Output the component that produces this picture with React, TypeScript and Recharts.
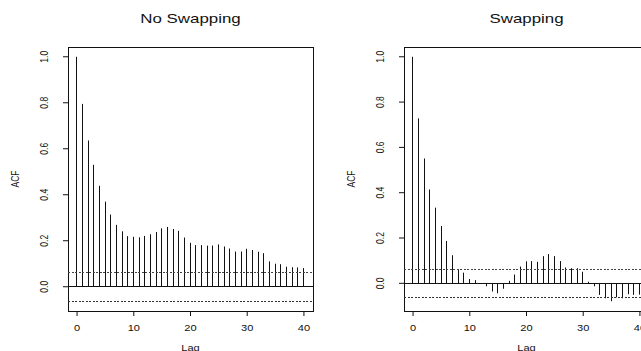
import {
  Bar,
  ComposedChart,
  Customized,
  ReferenceArea,
  ReferenceLine,
  XAxis,
  YAxis,
} from "recharts";

// Lags shown on both panels.
const lags = [
  0, 1, 2, 3, 4, 5, 6, 7, 8, 9, 10, 11, 12, 13, 14, 15, 16, 17, 18, 19, 20,
  21, 22, 23, 24, 25, 26, 27, 28, 29, 30, 31, 32, 33, 34, 35, 36, 37, 38, 39,
  40,
];

// ACF read off the "No Swapping" panel.
const acfNoSwapping = [
  1.0, 0.795, 0.636, 0.53, 0.439, 0.37, 0.314, 0.269, 0.241, 0.22, 0.217,
  0.215, 0.221, 0.228, 0.238, 0.254, 0.26, 0.251, 0.243, 0.214, 0.191, 0.181,
  0.181, 0.179, 0.179, 0.184, 0.175, 0.166, 0.153, 0.153, 0.165, 0.16, 0.152,
  0.146, 0.11, 0.1, 0.098, 0.087, 0.085, 0.084, 0.081,
];

const acfSwapping = [
  1.0, 0.728, 0.551, 0.414, 0.334, 0.253, 0.187, 0.124, 0.06, 0.047, 0.019,
  0.014, 0.001, -0.013, -0.036, -0.044, -0.024, 0.011, 0.039, 0.074, 0.097,
  0.098, 0.095, 0.12, 0.129, 0.12, 0.098, 0.07, 0.067, 0.067, 0.051, 0.007,
  -0.013, -0.051, -0.066, -0.079, -0.062, -0.066, -0.048, -0.051, -0.05,
];

// Confidence bound drawn as dotted lines.
const confLimit = 0.063;

const xTicks = [0, 10, 20, 30, 40];
const yTicks = [0, 0.2, 0.4, 0.6, 0.8, 1.0];

// Layout of one panel (pixels inside its own svg).
const CHART_W = 320;
const CHART_H = 351;
const PLOT_LEFT = 68;
const PLOT_TOP = 47;
const PLOT_RIGHT = 313;
const PLOT_BOTTOM = 311;

const FONT = '"Liberation Sans", Arial, Helvetica, sans-serif';
const STRETCH = 1.3; // the reference glyphs are wider than normal

/** R-style ylim: range of data and bounds, padded 4% each side. */
function yDomain(values: number[]): [number, number] {
  const lo = Math.min(Math.min(...values), -confLimit);
  const hi = Math.max(Math.max(...values), confLimit);
  const pad = (hi - lo) * 0.04;
  return [lo - pad, hi + pad];
}

const xDomain: [number, number] = [
  lags[0] - (lags[lags.length - 1] - lags[0]) * 0.04,
  lags[lags.length - 1] + (lags[lags.length - 1] - lags[0]) * 0.04,
];

function Stem(props: any) {
  const { x, y, width, height } = props;
  if (x == null || y == null) return null;
  const cx = Math.round(x + width / 2 - 0.5) + 0.5;
  return (
    <line
      x1={cx}
      x2={cx}
      y1={y}
      y2={y + height}
      stroke="#111"
      strokeWidth={1}
    />
  );
}

function XTick(props: any) {
  const { x, payload } = props;
  return (
    <text
      transform={`translate(${x},331) scale(${STRETCH},1)`}
      textAnchor="middle"
      fontFamily={FONT}
      fontSize={8.5}
      fill="#111"
    >
      {String(payload.value)}
    </text>
  );
}

function YTick(props: any) {
  const { y, payload } = props;
  return (
    <text
      transform={`translate(48,${y}) scale(${STRETCH},1) rotate(-90)`}
      textAnchor="middle"
      fontFamily={FONT}
      fontSize={8.5}
      fill="#111"
    >
      {Number(payload.value).toFixed(1)}
    </text>
  );
}

function PanelText({ title }: { title: string }) {
  const cx = (PLOT_LEFT + PLOT_RIGHT) / 2;
  const cy = (PLOT_TOP + PLOT_BOTTOM) / 2;
  return (
    <g fontFamily={FONT} fill="#111">
      <text
        transform={`translate(${cx},23) scale(${STRETCH},1)`}
        textAnchor="middle"
        fontSize={13}
      >
        {title}
      </text>
      <text
        transform={`translate(${cx},351) scale(${STRETCH},1)`}
        textAnchor="middle"
        fontSize={8.5}
      >
        Lag
      </text>
      <text
        transform={`translate(18.5,${cy}) scale(${STRETCH},1) rotate(-90)`}
        textAnchor="middle"
        fontSize={8.5}
      >
        ACF
      </text>
    </g>
  );
}

function AcfPanel({ title, values }: { title: string; values: number[] }) {
  const data = lags.map((lag, i) => ({ lag, acf: values[i] }));
  const [yLo, yHi] = yDomain(values);

  return (
    <ComposedChart
      width={CHART_W}
      height={CHART_H}
      data={data}
      margin={{
        top: PLOT_TOP,
        right: CHART_W - PLOT_RIGHT,
        left: 0,
        bottom: 0,
      }}
    >
      <XAxis
        dataKey="lag"
        type="number"
        domain={xDomain}
        ticks={xTicks}
        allowDataOverflow
        axisLine={false}
        tickSize={5}
        tickLine={{ stroke: "#111" }}
        tick={<XTick />}
        height={CHART_H - PLOT_BOTTOM}
        interval={0}
      />
      <YAxis
        type="number"
        domain={[yLo, yHi]}
        ticks={yTicks}
        allowDataOverflow
        axisLine={false}
        tickSize={5}
        tickLine={{ stroke: "#111" }}
        tick={<YTick />}
        width={PLOT_LEFT}
        interval={0}
      />
      <ReferenceArea
        x1={xDomain[0]}
        x2={xDomain[1]}
        y1={yLo}
        y2={yHi}
        fill="none"
        stroke="#111"
        strokeWidth={1}
        shapeRendering="crispEdges"
        ifOverflow="extendDomain"
      />
      <ReferenceLine
        y={confLimit}
        stroke="#444"
        strokeDasharray="2 1.5"
        shapeRendering="crispEdges"
      />
      <ReferenceLine
        y={-confLimit}
        stroke="#333"
        strokeDasharray="2 1.5"
        shapeRendering="crispEdges"
      />
      <ReferenceLine y={0} stroke="#111" shapeRendering="crispEdges" />
      <Bar
        dataKey="acf"
        barSize={1}
        shape={<Stem />}
        isAnimationActive={false}
      />
      <Customized component={<PanelText title={title} />} />
    </ComposedChart>
  );
}

export default function App() {
  return (
    <div
      style={{
        position: "absolute",
        left: 0,
        top: 0,
        width: 641,
        height: 351,
        overflow: "hidden",
        background: "#fff",
      }}
    >
      <div style={{ position: "absolute", left: 0, top: 0 }}>
        <AcfPanel title="No Swapping" values={acfNoSwapping} />
      </div>
      <div style={{ position: "absolute", left: 336, top: 0 }}>
        <AcfPanel title="Swapping" values={acfSwapping} />
      </div>
    </div>
  );
}
